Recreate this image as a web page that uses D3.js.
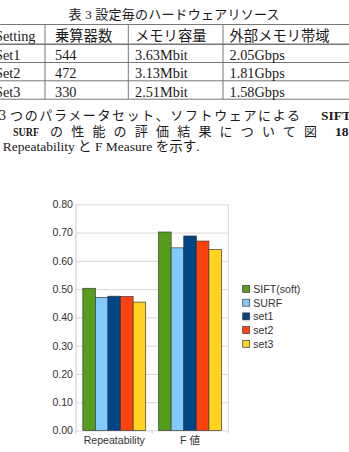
<!DOCTYPE html>
<html>
<head>
<meta charset="utf-8">
<script src="https://cdn.jsdelivr.net/npm/d3@7"></script>
<style>
  body { margin: 0; background: #fff; }
  svg { display: block; }
  .serif { font-family: "Liberation Serif", "Noto Sans CJK JP", serif; fill: #1a1a1a; }
  .sans { font-family: "Liberation Sans", Arial, sans-serif; fill: #333; font-size: 10.6px; }
</style>
</head>
<body>
<div id="chart"></div>
<script>

var tableCaption = "表 3 設定毎のハードウェアリソース";
var tableHeader = ["Setting", "乗算器数", "メモリ容量", "外部メモリ帯域"];
var tableRows = [
  ["Set1", "544", "3.63Mbit", "2.05Gbps"],
  ["Set2", "472", "3.13Mbit", "1.81Gbps"],
  ["Set3", "330", "2.51Mbit", "1.58Gbps"]
];

var categories = ["Repeatability", "F 値"];
var seriesNames = ["SIFT(soft)", "SURF", "set1", "set2", "set3"];
var siftSoft = [0.503, 0.702];
var surf = [0.471, 0.646];
var set1 = [0.475, 0.688];
var set2 = [0.474, 0.670];
var set3 = [0.454, 0.640];
var yTicks = [0, 0.1, 0.2, 0.3, 0.4, 0.5, 0.6, 0.7, 0.8];

var seriesValues = [siftSoft, surf, set1, set2, set3];
var colors = ["#579d1c", "#83caff", "#004586", "#ff420e", "#ffd320"];

var width = 349, height = 452;

var svg = d3.select("#chart")
  .append("svg")
  .attr("width", width)
  .attr("height", height);

// ---- table ----
svg.append("text")
  .attr("class", "serif")
  .attr("x", 68.5)
  .attr("y", 19)
  .attr("textLength", 211)
  .attr("lengthAdjust", "spacing")
  .style("font-size", "13px")
  .text(tableCaption);

var colX = [-5, 55, 135, 229.5];
var colLines = [45, 128.3, 223];
var rowLines = [24.5, 44.3, 62.5, 80.8, 99.2];
var baselines = [40.5, 60, 78.3, 96.7];

var tbl = svg.append("g");
rowLines.forEach(function(y, i) {
  tbl.append("line")
    .attr("x1", 0).attr("x2", width)
    .attr("y1", y).attr("y2", y)
    .attr("stroke", "#777")
    .attr("stroke-width", i == 1 ? 1.6 : 1);
});
colLines.forEach(function(x) {
  tbl.append("line")
    .attr("x1", x).attr("x2", x)
    .attr("y1", rowLines[0]).attr("y2", rowLines[4])
    .attr("stroke", "#777");
});
[tableHeader].concat(tableRows).forEach(function(row, r) {
  row.forEach(function(cell, c) {
    tbl.append("text")
      .attr("class", "serif")
      .attr("x", colX[c])
      .attr("y", baselines[r])
      .style("font-size", "14.3px")
      .text(cell);
  });
});

// ---- paragraph ----
var para = svg.append("g").attr("class", "serif").style("font-size", "13px");
para.append("text").attr("x", -1).attr("y", 119.5).style("font-size", "14px").text("3");
para.append("text").attr("x", 10).attr("y", 119.5)
  .attr("textLength", 290).attr("lengthAdjust", "spacing")
  .text("つのパラメータセット、ソフトウェアによる");
para.append("text").attr("x", 321).attr("y", 119.5)
  .style("font-size", "13.5px").style("font-weight", "bold").text("SIFT");
para.append("text").attr("x", 13).attr("y", 135.5)
  .style("font-size", "13px").style("font-weight", "bold")
  .attr("textLength", 26).attr("lengthAdjust", "spacingAndGlyphs").text("SURF");
para.append("text").attr("x", 50).attr("y", 135.5)
  .attr("textLength", 267).attr("lengthAdjust", "spacing")
  .text("の性能の評価結果について図");
para.append("text").attr("x", 335).attr("y", 135.5)
  .style("font-size", "13.5px").style("font-weight", "bold").text("18");
para.append("text").attr("x", 2.7).attr("y", 151)
  .style("font-size", "13.5px")
  .text("Repeatability と F Measure を示す.");

// ---- bar chart ----
var plot = {left: 76, right: 228.3, top: 204.3, bottom: 430.5};

var x0 = d3.scaleBand()
  .domain(categories)
  .range([plot.left, plot.right])
  .paddingInner(0.17)
  .paddingOuter(0.09);

var x1 = d3.scaleBand()
  .domain(seriesNames)
  .range([0, x0.bandwidth()]);

var y = d3.scaleLinear()
  .domain([0, 0.8])
  .range([plot.bottom, plot.top]);

var yAxis = svg.append("g")
  .attr("class", "sans")
  .attr("transform", "translate(" + plot.left + ",0)")
  .call(d3.axisLeft(y)
    .tickValues(yTicks)
    .tickFormat(d3.format(".2f"))
    .tickSize(-(plot.right - plot.left))
    .tickPadding(3));
yAxis.select(".domain").remove();
yAxis.selectAll(".tick line").attr("stroke", "#d9d9d9");
yAxis.selectAll(".tick text")
  .attr("fill", "#333")
  .style("font-family", "Liberation Sans, Arial, sans-serif")
  .style("font-size", "10.6px");

svg.append("line")
  .attr("x1", plot.left).attr("x2", plot.left)
  .attr("y1", plot.top).attr("y2", plot.bottom + 3)
  .attr("stroke", "#c8c8c8");
svg.append("line")
  .attr("x1", plot.right).attr("x2", plot.right)
  .attr("y1", plot.top).attr("y2", plot.bottom + 3)
  .attr("stroke", "#d9d9d9");
// tick between the two groups
var mid = x0(categories[1]) - x0.step() * x0.paddingInner() / 2;
svg.append("line")
  .attr("x1", mid).attr("x2", mid)
  .attr("y1", plot.bottom).attr("y2", plot.bottom + 3)
  .attr("stroke", "#c8c8c8");

var groups = svg.selectAll(".group")
  .data(categories)
  .enter()
  .append("g")
  .attr("class", "group")
  .attr("transform", function(d) { return "translate(" + x0(d) + ",0)"; });

groups.selectAll("rect")
  .data(function(d, i) {
    return seriesNames.map(function(s, j) { return {name: s, value: seriesValues[j][i], k: j}; });
  })
  .enter()
  .append("rect")
  .attr("x", function(d) { return x1(d.name); })
  .attr("y", function(d) { return y(d.value); })
  .attr("width", x1.bandwidth())
  .attr("height", function(d) { return plot.bottom - y(d.value); })
  .attr("fill", function(d) { return colors[d.k]; })
  .attr("stroke", "#3a3a3a")
  .attr("stroke-width", 0.7);

var xAxis = svg.append("g")
  .attr("transform", "translate(0," + plot.bottom + ")")
  .call(d3.axisBottom(x0).tickSize(0).tickPadding(6.3));
xAxis.select(".domain").remove();
xAxis.selectAll(".tick text")
  .attr("fill", "#333")
  .style("font-family", "Liberation Sans, Arial, 'Noto Sans CJK JP', sans-serif")
  .style("font-size", "10.6px");

// legend
var legend = svg.selectAll(".legend")
  .data(seriesNames)
  .enter()
  .append("g")
  .attr("class", "legend")
  .attr("transform", function(d, i) { return "translate(242.7," + (289 + i * 13.7) + ")"; });

legend.append("rect")
  .attr("x", 0).attr("y", -3.5)
  .attr("width", 7).attr("height", 7)
  .attr("fill", function(d, i) { return colors[i]; })
  .attr("stroke", "#3a3a3a")
  .attr("stroke-width", 0.7);

legend.append("text")
  .attr("class", "sans")
  .attr("x", 10.6)
  .attr("y", 3.8)
  .text(function(d) { return d; });

</script>
</body>
</html>
